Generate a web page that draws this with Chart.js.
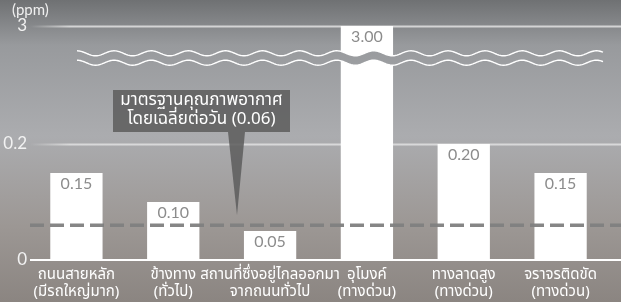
<!DOCTYPE html>
<html>
<head>
<meta charset="utf-8">
<script src="https://cdn.jsdelivr.net/npm/chart.js@4.4.1/dist/chart.umd.min.js"></script>
<style>
  html, body { margin: 0; padding: 0; background: #8e8c8b; }
  #wrap { width: 621px; height: 302px; position: relative; }
</style>
</head>
<body>
<div id="wrap"><canvas id="ppmChart"></canvas></div>
<script>
// data
const categories = [
    ['ถนนสายหลัก', '(มีรถใหญ่มาก)'],
    ['ข้างทาง', '(ทั่วไป)'],
    ['สถานที่ซึ่งอยู่ไกลออกมา', 'จากถนนทั่วไป'],
    ['อุโมงค์', '(ทางด่วน)'],
    ['ทางลาดสูง', '(ทางด่วน)'],
    ['จราจรติดขัด', '(ทางด่วน)']
];
const values = [0.15, 0.10, 0.05, 3.00, 0.20, 0.15];
const standardValue = 0.06;
const standardLabel = ['มาตรฐานคุณภาพอากาศ', 'โดยเฉลี่ยต่อวัน (0.06)'];
const yTicks = [0, 0.2, 3];
const unitLabel = '(ppm)';

// broken axis: anything above the break sits at the top of the scale
const BREAK_AT = 0.3;
const AXIS_TOP = 0.4034;
const toAxis = v => (v > BREAK_AT ? AXIS_TOP : v);

const FONT = '"Noto Sans Thai", "Noto Sans", Lato, sans-serif';
const NUM_FONT = 'Lato, "Noto Sans", sans-serif';

function bgGradient(ctx, h) {
    const g = ctx.createLinearGradient(0, 0, 0, h);
    g.addColorStop(0, '#6f7173');
    g.addColorStop(0.15, '#989a9d');
    g.addColorStop(0.45, '#abacaf');
    g.addColorStop(0.75, '#9c9794');
    g.addColorStop(1, '#8b8581');
    return g;
}

const decorPlugin = {
    id: 'decor',
    beforeDraw(chart) {
        const { ctx, width, height, scales: { y } } = chart;
        ctx.save();
        ctx.fillStyle = bgGradient(ctx, height);
        ctx.fillRect(0, 0, width, height);

        // grid lines
        yTicks.forEach(t => {
            if (t === 0) return;
            const py = Math.round(y.getPixelForValue(toAxis(t))) + 0.5;
            const lg = ctx.createLinearGradient(30, 0, 70, 0);
            lg.addColorStop(0, 'rgba(225,225,225,0)');
            lg.addColorStop(1, 'rgba(225,225,225,0.85)');
            ctx.strokeStyle = lg;
            ctx.lineWidth = 2;
            ctx.beginPath();
            ctx.moveTo(30, py);
            ctx.lineTo(width, py);
            ctx.stroke();
        });

        // unit
        ctx.fillStyle = '#f0f0f0';
        ctx.font = '15px ' + NUM_FONT;
        ctx.textAlign = 'left';
        ctx.textBaseline = 'middle';
        ctx.fillText(unitLabel, 12, 10);
        ctx.restore();
    },
    afterDatasetsDraw(chart) {
        const { ctx, width, height, scales: { x, y } } = chart;
        ctx.save();

        // value labels
        const meta = chart.getDatasetMeta(0);
        ctx.fillStyle = '#8c8c8c';
        ctx.font = '16px ' + NUM_FONT;
        ctx.textAlign = 'center';
        ctx.textBaseline = 'middle';
        meta.data.forEach((bar, i) => {
            ctx.fillText(values[i].toFixed(2), bar.x, bar.y + 11);
        });

        // axis break waves
        const x0 = 77, x1 = 603, wl = 37.1, amp = 2.5;
        const yA = 53.3, yB = 62.7;
        const wave = (yc, px) => yc - amp * Math.cos(2 * Math.PI * (px - x0) / wl);
        ctx.beginPath();
        for (let px = x0; px <= x1; px++) ctx.lineTo(px, wave(yA, px));
        for (let px = x1; px >= x0; px--) ctx.lineTo(px, wave(yB, px));
        ctx.closePath();
        ctx.fillStyle = bgGradient(ctx, height);
        ctx.fill();
        ctx.strokeStyle = '#ffffff';
        ctx.lineWidth = 1.4;
        [yA, yB].forEach(yc => {
            ctx.beginPath();
            for (let px = x0; px <= x1; px++) ctx.lineTo(px, wave(yc, px));
            ctx.stroke();
        });

        // zero axis
        const y0 = y.getPixelForValue(0);
        ctx.strokeStyle = '#ffffff';
        ctx.lineWidth = 2;
        ctx.beginPath();
        ctx.moveTo(30, y0);
        ctx.lineTo(width, y0);
        ctx.stroke();

        // standard dashed line
        const ys = y.getPixelForValue(standardValue);
        ctx.strokeStyle = 'rgba(128,128,128,0.95)';
        ctx.lineWidth = 3.5;
        ctx.setLineDash([14, 6]);
        ctx.beginPath();
        ctx.moveTo(30, ys);
        ctx.lineTo(width, ys);
        ctx.stroke();
        ctx.setLineDash([]);

        // callout
        const bx = 113, by = 90, bw = 177, bh = 42;
        ctx.fillStyle = 'rgba(95,95,95,0.88)';
        ctx.fillRect(bx, by, bw, bh);
        ctx.beginPath();
        ctx.moveTo(228, by + bh);
        ctx.lineTo(245, by + bh);
        ctx.lineTo(237, ys - 10);
        ctx.closePath();
        ctx.fill();
        ctx.fillStyle = '#ffffff';
        ctx.font = '17px ' + FONT;
        ctx.textAlign = 'center';
        ctx.fillText(standardLabel[0], bx + bw / 2, by + 12);
        ctx.fillText(standardLabel[1], bx + bw / 2, by + 31);
        ctx.restore();
    }
};

new Chart(document.getElementById('ppmChart'), {
    type: 'bar',
    data: {
        labels: categories,
        datasets: [{
            data: values.map(toAxis),
            backgroundColor: '#ffffff',
            borderWidth: 0,
            barPercentage: 0.54,
            categoryPercentage: 1
        }]
    },
    options: {
        responsive: true,
        maintainAspectRatio: false,
        animation: false,
        layout: { padding: { top: 26, right: 12, bottom: 0, left: 0 } },
        plugins: { legend: { display: false }, tooltip: { enabled: false } },
        scales: {
            x: {
                grid: { display: false },
                border: { display: false },
                afterFit: scale => { scale.height = 42; },
                ticks: {
                    color: '#ffffff',
                    font: { family: FONT, size: 15, lineHeight: 1.1 },
                    padding: 0,
                    maxRotation: 0,
                    autoSkip: false
                }
            },
            y: {
                min: 0,
                max: AXIS_TOP,
                grid: { display: false, drawTicks: false },
                border: { display: false },
                afterBuildTicks: scale => {
                    scale.ticks = yTicks.map(t => ({ value: toAxis(t), label: String(t) }));
                },
                afterFit: scale => { scale.width = 28; },
                ticks: {
                    color: '#f2f2f2',
                    font: { family: NUM_FONT, size: 17 },
                    padding: 1,
                    callback: (v) => {
                        const t = yTicks.find(k => toAxis(k) === v);
                        return t === undefined ? '' : String(t);
                    }
                }
            }
        }
    },
    plugins: [decorPlugin]
});
</script>
</body>
</html>
